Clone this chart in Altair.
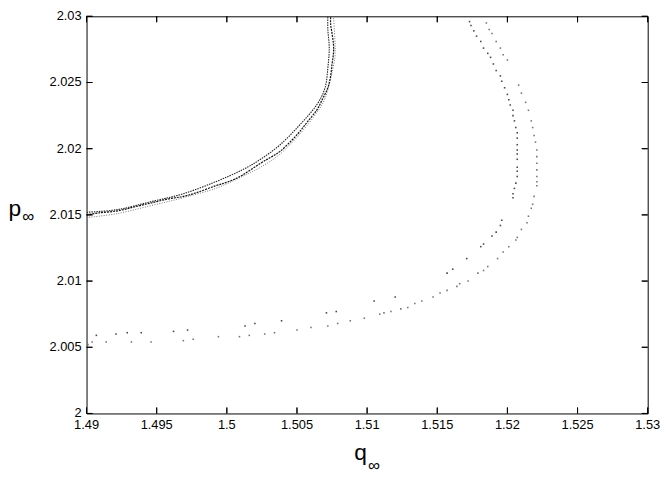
import altair as alt
import pandas as pd

# ---- Data (q_inf, p_inf) ----
# Left (dense) curve: three close strands
left_a_q = [1.4900, 1.4909, 1.4922, 1.4934, 1.4946, 1.4958, 1.4969, 1.4979, 1.4992, 1.5001,
            1.5011, 1.5024, 1.5032, 1.5038, 1.5046, 1.5052, 1.5058, 1.5064, 1.5068, 1.5072,
            1.5074, 1.5075, 1.5076, 1.5076, 1.5075, 1.5074, 1.5074]
left_a_p = [2.0150, 2.01515, 2.0153, 2.0156, 2.0159, 2.0162, 2.0164, 2.0167, 2.0172, 2.0175,
            2.0180, 2.0189, 2.0194, 2.0198, 2.0206, 2.0213, 2.0221, 2.0229, 2.0237, 2.0246,
            2.0255, 2.0264, 2.0272, 2.0279, 2.0287, 2.0294, 2.0300]

left_b_q = [1.4900, 1.4922, 1.4946, 1.4969, 1.4992, 1.5011, 1.5024, 1.5038, 1.5052, 1.5064,
            1.5070, 1.5072, 1.5073, 1.5072, 1.5072]
left_b_p = [2.0152, 2.0154, 2.0160, 2.0166, 2.0175, 2.0184, 2.0192, 2.0203, 2.0218, 2.0233,
            2.0246, 2.0261, 2.0276, 2.0290, 2.0300]

left_c_q = [1.4900, 1.4922, 1.4946, 1.4969, 1.4992, 1.5011, 1.5024, 1.5038, 1.5052, 1.5064,
            1.5070, 1.5074, 1.5077, 1.5077, 1.5076]
left_c_p = [2.0148, 2.0151, 2.0157, 2.0163, 2.0170, 2.0179, 2.0186, 2.0196, 2.0211, 2.0227,
            2.0238, 2.0253, 2.0269, 2.0283, 2.0300]

# Right (sparse) curve: inner strand
right_in_q = [1.5173, 1.5174, 1.5176, 1.5178, 1.5181, 1.5183, 1.5186, 1.5188, 1.5190, 1.5192,
              1.5195, 1.5196, 1.5198, 1.5200, 1.5201, 1.5202, 1.5204, 1.5204, 1.5205, 1.5206,
              1.5207, 1.5207, 1.5207, 1.5207, 1.5207, 1.5207, 1.5207, 1.5207, 1.5207, 1.5206,
              1.5205, 1.5204, 1.5204, 1.5196, 1.5195, 1.5192, 1.5189, 1.5183, 1.5181, 1.5171,
              1.5161, 1.5157, 1.5120, 1.5105, 1.5078, 1.5071, 1.5039, 1.5020, 1.5013, 1.4972,
              1.4962, 1.4939, 1.4929, 1.4921, 1.4907]
right_in_p = [2.0296, 2.0293, 2.0289, 2.0285, 2.0281, 2.0276, 2.0272, 2.0269, 2.0264, 2.0259,
              2.0255, 2.0251, 2.0246, 2.0241, 2.0237, 2.0233, 2.0229, 2.0225, 2.0221, 2.0216,
              2.0212, 2.0208, 2.0203, 2.0199, 2.0196, 2.0192, 2.0186, 2.0183, 2.0179, 2.0174,
              2.0170, 2.0166, 2.0163, 2.0146, 2.0142, 2.0137, 2.0134, 2.0128, 2.0126, 2.0117,
              2.0109, 2.0106, 2.0088, 2.0085, 2.0077, 2.0076, 2.0070, 2.0068, 2.0066, 2.0063,
              2.0062, 2.0061, 2.0061, 2.0060, 2.0059]

# Right (sparse) curve: outer strand
right_out_q = [1.5185, 1.5187, 1.5189, 1.5192, 1.5195, 1.5197, 1.5200, 1.5208, 1.5210, 1.5213,
               1.5215, 1.5217, 1.5218, 1.5219, 1.5220, 1.5221, 1.5221, 1.5221, 1.5221, 1.5221,
               1.5221, 1.5221, 1.5219, 1.5218, 1.5217, 1.5215, 1.5214, 1.5210, 1.5207, 1.5206,
               1.5201, 1.5197, 1.5193, 1.5186, 1.5183, 1.5179, 1.5172, 1.5166, 1.5164, 1.5157,
               1.5152, 1.5147, 1.5139, 1.5134, 1.5129, 1.5124, 1.5117, 1.5112, 1.5109, 1.5098,
               1.5088, 1.5079, 1.5072, 1.5060, 1.5050, 1.5034, 1.5027, 1.5016, 1.5009, 1.4994,
               1.4976, 1.4969, 1.4946, 1.4932, 1.4914, 1.4904, 1.4901]
right_out_p = [2.0295, 2.0290, 2.0287, 2.0281, 2.0276, 2.0271, 2.0267, 2.0248, 2.0242, 2.0235,
               2.0229, 2.0221, 2.0216, 2.0210, 2.0205, 2.0199, 2.0194, 2.0189, 2.0184, 2.0179,
               2.0175, 2.0172, 2.0164, 2.0158, 2.0155, 2.0149, 2.0144, 2.0139, 2.0133, 2.0131,
               2.0126, 2.0122, 2.0117, 2.0111, 2.0108, 2.0106, 2.0100, 2.0098, 2.0096, 2.0093,
               2.0091, 2.0088, 2.0085, 2.0083, 2.0080, 2.0079, 2.0077, 2.0076, 2.0075, 2.0072,
               2.0070, 2.0068, 2.0066, 2.0065, 2.0063, 2.0061, 2.0060, 2.0059, 2.0058, 2.0058,
               2.0056, 2.0055, 2.0054, 2.0054, 2.0054, 2.0054, 2.0052]

x_ticks = [1.49, 1.495, 1.5, 1.505, 1.51, 1.515, 1.52, 1.525, 1.53]
y_ticks = [2.0, 2.005, 2.01, 2.015, 2.02, 2.025, 2.03]

# 568 = 8 * 71 and 402 = 6 * 67, so every tick falls on a whole pixel
W, H = 568, 402
TL = 6
FONT = "Liberation Sans"

xs = alt.Scale(domain=[1.49, 1.53], nice=False, zero=False)
ys = alt.Scale(domain=[2.0, 2.03], nice=False, zero=False)

common = dict(ticks=True, tickSize=TL, tickColor="#000000", tickWidth=1, tickOpacity=1,
              domain=False, grid=False, labelFontSize=13, labelFont=FONT, labelColor="#000",
              labelFlush=False, labelOverlap=False, title=None, format="~g", offset=-TL,
              translate=0, zindex=2)

x_bottom = alt.Axis(orient="bottom", values=x_ticks, labelPadding=6, labelBaseline="top", **common)
y_left = alt.Axis(orient="left", values=y_ticks, labelPadding=5, labelBaseline="middle", **common)
x_top = alt.Axis(orient="top", values=x_ticks, labels=False, **common)
y_right = alt.Axis(orient="right", values=y_ticks, labels=False, **common)


def X(field, axis=None):
    return alt.X(f"{field}:Q", scale=xs, axis=axis)


def Y(field, axis=None):
    return alt.Y(f"{field}:Q", scale=ys, axis=axis)


def frame(qs, ps):
    return pd.DataFrame({"q": qs, "p": ps, "i": list(range(len(qs)))})


def strand(qs, ps, color, dash, width, xa=None, ya=None):
    return alt.Chart(frame(qs, ps)).mark_line(
        color=color, strokeDash=dash, strokeWidth=width, interpolate="cardinal", clip=True
    ).encode(x=X("q", xa), y=Y("p", ya), order="i:Q")


# the main strand carries the bottom/left axes
left_a = strand(left_a_q, left_a_p, "#111111", [2, 1], 1.2, x_bottom, y_left)
left_b = strand(left_b_q, left_b_p, "#222222", [1.5, 1], 1.1)
left_c = strand(left_c_q, left_c_p, "#666666", [1, 1.5], 0.9)

right_in = alt.Chart(frame(right_in_q, right_in_p)).mark_square(
    size=2.5, color="#333333", opacity=0.9
).encode(x=X("q"), y=Y("p"))
# the outer strand carries the mirrored top/right tick axes
right_out = alt.Chart(frame(right_out_q, right_out_p)).mark_square(
    size=2.5, color="#666666", opacity=0.9
).encode(x=X("q", x_top), y=Y("p", y_right))

# inward tick marks drawn as rules as well (same positions as the axis ticks)
xt = pd.DataFrame({"v": x_ticks})
yt = pd.DataFrame({"v": y_ticks})
rule_kw = dict(color="#000000", strokeWidth=1)
tick_bottom = alt.Chart(xt).mark_rule(**rule_kw).encode(
    x=X("v"), y=alt.value(H - TL), y2=alt.value(H))
tick_top = alt.Chart(xt).mark_rule(**rule_kw).encode(
    x=X("v"), y=alt.value(0), y2=alt.value(TL))
tick_left = alt.Chart(yt).mark_rule(**rule_kw).encode(
    y=Y("v"), x=alt.value(0), x2=alt.value(TL))
tick_right = alt.Chart(yt).mark_rule(**rule_kw).encode(
    y=Y("v"), x=alt.value(W - TL), x2=alt.value(W))


def label(txt, x, y, size):
    return alt.Chart(pd.DataFrame({"t": [txt]})).mark_text(
        font=FONT, fontSize=size, color="#000", align="left", baseline="alphabetic"
    ).encode(text="t:N", x=alt.value(x), y=alt.value(y))


q_main = label("q", 271, 449, 23)
q_sub = label("∞", 285, 460, 17)
p_main = label("p", -79, 202, 23)
p_sub = label("∞", -65, 208, 17)

chart = alt.layer(
    left_c, left_b, left_a, right_out, right_in,
    tick_bottom, tick_top, tick_left, tick_right,
    q_main, q_sub, p_main, p_sub,
).properties(
    width=W, height=H,
    autosize=alt.AutoSizeParams(type="none"),
    padding={"left": 79.5, "top": 5.5, "right": 16.5, "bottom": 69.5},
    background="white",
).configure_view(
    stroke="#000000", strokeWidth=1
)

chart.save("out.html", embed_options={"renderer": "svg", "actions": False})
